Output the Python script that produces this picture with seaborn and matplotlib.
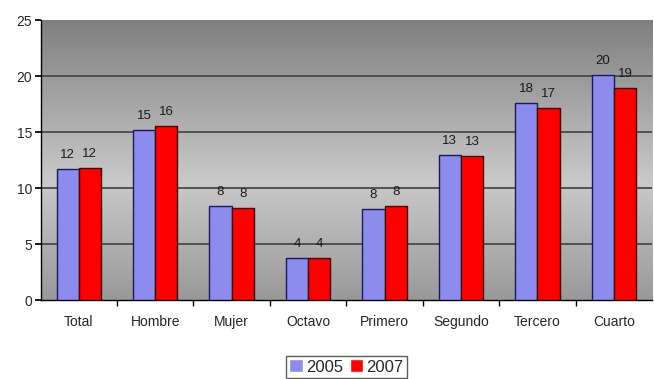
import numpy as np
import pandas as pd
import matplotlib
matplotlib.use("Agg")
import matplotlib.pyplot as plt
from matplotlib.colors import LinearSegmentedColormap
import seaborn as sns

categories = ["Total", "Hombre", "Mujer", "Octavo", "Primero", "Segundo", "Tercero", "Cuarto"]
values_2005 = [11.67, 15.18, 8.42, 3.72, 8.13, 12.95, 17.56, 20.06]
values_2007 = [11.76, 15.55, 8.24, 3.72, 8.42, 12.86, 17.11, 18.93]
years = ["2005", "2007"]
y_ticks = [0, 5, 10, 15, 20, 25]

df = pd.DataFrame({
    "categoria": categories * 2,
    "anio": [years[0]] * len(categories) + [years[1]] * len(categories),
    "valor": values_2005 + values_2007,
})

sns.set_theme(style="white")
plt.rcParams["font.family"] = ["Liberation Sans", "DejaVu Sans"]

fig = plt.figure(figsize=(6.54, 3.79), dpi=100)
ax = fig.add_axes([0.062, 0.208, 0.935, 0.739])

# grey vertical gradient behind the bars
grad_cmap = LinearSegmentedColormap.from_list(
    "fondo",
    [(0.0, (0.60, 0.60, 0.60)), (0.42, (0.79, 0.79, 0.79)), (1.0, (0.50, 0.50, 0.50))],
)
ax.imshow(np.linspace(0, 1, 256).reshape(-1, 1), cmap=grad_cmap, aspect="auto",
          extent=[0, 1, 0, 1], origin="lower", transform=ax.transAxes, zorder=0)

palette = {"2005": "#8c8cee", "2007": "#ff0000"}
sns.barplot(data=df, x="categoria", y="valor", hue="anio", palette=palette,
            width=0.58, gap=0, saturation=1, ax=ax, zorder=3)

edge = {"2005": "#1a1a5a", "2007": "#3a0000"}
for cont, yr in zip(ax.containers, years):
    for p in cont:
        p.set_edgecolor(edge[yr])
        p.set_linewidth(1.0)
    ax.bar_label(cont, fmt="%.0f", padding=6, fontsize=9.5, color="#1a1a1a")

ax.set_ylim(0, 25)
ax.set_xlim(-0.5, len(categories) - 0.5)
ax.set_yticks(y_ticks)
ax.set_yticklabels([str(t) for t in y_ticks], fontsize=10)
for t in y_ticks[1:-1]:
    ax.axhline(t, color="#4a4a4a", lw=1.3, zorder=1)

ax.set_xticks(range(len(categories)))
ax.set_xticklabels(categories, fontsize=10)
ax.tick_params(axis="x", length=0, pad=11)
ax.set_xticks(np.arange(0.5, len(categories) - 0.5, 1), minor=True)
ax.tick_params(axis="x", which="minor", length=4, direction="out", color="black", bottom=True)
ax.tick_params(axis="y", length=4, direction="out", color="black", left=True, pad=2)

ax.set_xlabel("")
ax.set_ylabel("")
for s in ["top", "right"]:
    ax.spines[s].set_visible(False)
ax.spines["left"].set_color("black")
ax.spines["bottom"].set_color("black")
ax.spines["left"].set_linewidth(1.0)
ax.spines["bottom"].set_linewidth(1.0)

leg = ax.legend(title=None, loc="upper center", bbox_to_anchor=(0.5, -0.17), ncol=2,
                frameon=True, fontsize=12, handlelength=0.8, handleheight=0.8,
                handletextpad=0.2, columnspacing=0.4, borderpad=0.2, fancybox=False)
leg.get_frame().set_edgecolor("#333333")
leg.get_frame().set_linewidth(1.0)

fig.savefig("out.png", dpi=100)
